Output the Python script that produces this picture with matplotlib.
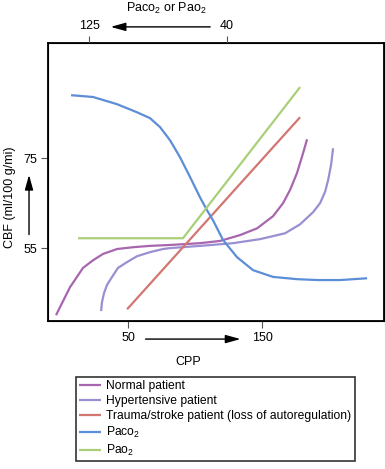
import numpy as np
import matplotlib
matplotlib.use('Agg')
import matplotlib.pyplot as plt

plt.rcParams['font.family'] = ['Liberation Sans', 'DejaVu Sans']
plt.rcParams['mathtext.default'] = 'regular'

# curves (x = CPP units, y = CBF)
normal_x = [-3.7, -0.7, 3.0, 6.7, 11.9, 16.4, 23.9, 31.3, 41.8, 53.7, 66.4, 81.3,
            103.7, 118.7, 133.6, 146.3, 158.2, 165.7, 171, 176.1, 180.6, 183.6]
normal_y = [40.1, 41.9, 44.1, 46.3, 48.6, 50.6, 52.3, 53.7, 54.8, 55.2, 55.5, 55.7,
            56.1, 56.6, 57.9, 59.4, 62.1, 65.0, 68.0, 71.7, 76.1, 79.2]

hyper_x = [29.9, 30.6, 32.1, 34.3, 38.1, 42.5, 49.3, 56.7, 66.4, 76.1, 81.3,
           103.7, 128.4, 148.5, 167.2, 178.4, 188.1, 193.3, 197, 199.3, 201.5, 203.0]
hyper_y = [41.0, 43.0, 45.0, 46.8, 48.6, 50.6, 51.9, 53.2, 54.1, 54.8, 55.0,
           55.5, 56.1, 57.0, 58.3, 60.3, 63.0, 65.0, 67.5, 70.1, 73.5, 77.2]

trauma_x = [49.3, 178.4]
trauma_y = [41.4, 84.1]

paco2_x = [7.5, 23.9, 41.8, 56.7, 66.4, 73.9, 81.3, 88.8, 96.3, 103.7, 109.0, 113.4,
           120.9, 131.3, 143.3, 158.2, 176.1, 191.8, 208.2, 228.4]
paco2_y = [89.0, 88.6, 87.0, 85.2, 83.9, 81.9, 79.0, 75.2, 70.8, 66.3, 63.4, 61.2,
           56.8, 53.0, 50.1, 48.6, 48.1, 47.9, 47.9, 48.3]

pao2_x = [12.7, 91, 178.4]
pao2_y = [57.2, 57.2, 90.8]

labels = ['Normal patient', 'Hypertensive patient',
          'Trauma/stroke patient (loss of autoregulation)',
          'Paco$_2$', 'Pao$_2$']
colors = ['#a866ae', '#9a8fd0', '#d27670', '#5c8ed8', '#a9cf78']

cpp_ticks = [50, 150]
cbf_ticks = [55, 75]
top_ticks = [21, 123.9]
top_labels = ['125', '40']

W, H = 385, 469
fig = plt.figure(figsize=(W / 100, H / 100), dpi=100)
ax = fig.add_axes([48 / W, 1 - 321 / H, 336 / W, 278 / H])

series = [(normal_x, normal_y), (hyper_x, hyper_y), (trauma_x, trauma_y),
          (paco2_x, paco2_y), (pao2_x, pao2_y)]
handles = []
for (xs, ys), lab, c in zip(series, labels, colors):
    h, = ax.plot(xs, ys, color=c, lw=1.6, label=lab,
                 solid_capstyle='butt', solid_joinstyle='round')
    handles.append(h)

ax.set_xlim(-9.7, 241)
ax.set_ylim(38.8, 100.6)
for s in ax.spines.values():
    s.set_linewidth(1.3)

ax.set_xticks(cpp_ticks)
ax.set_yticks(cbf_ticks)
ax.tick_params(length=5, width=0.8, labelsize=9, pad=3, color='#555555')

top = ax.twiny()
top.set_xlim(ax.get_xlim())
top.set_xticks(top_ticks)
top.set_xticklabels(top_labels)
top.tick_params(length=5, width=0.8, labelsize=9, pad=3, color='#555555')

arrow = dict(arrowstyle='-|>,head_length=0.9,head_width=0.25', color='black', lw=1.0)
# bottom arrow 50 -> 150
ax.annotate('', xy=(136, -0.065), xytext=(61, -0.065),
            xycoords=('data', 'axes fraction'), arrowprops=arrow, annotation_clip=False)
# top arrow 40 -> 125
ax.annotate('', xy=(35, 1.058), xytext=(113.4, 1.058),
            xycoords=('data', 'axes fraction'), arrowprops=arrow, annotation_clip=False)
# left arrow up
ax.annotate('', xy=(-0.0565, 71.9), xytext=(-0.0565, 57.4),
            xycoords=('axes fraction', 'data'), arrowprops=arrow, annotation_clip=False)

fig.text(188 / W, 1 - 362 / H, 'CPP', ha='center', va='center', fontsize=9)
fig.text(10 / W, 1 - 197 / H, 'CBF (ml/100 g/mi)', ha='center', va='center',
         rotation=90, fontsize=9)
fig.text(166 / W, 1 - 8 / H, 'Paco$_2$ or Pao$_2$', ha='center', va='center', fontsize=9)

leg = fig.legend(handles=handles, loc='upper left', bbox_to_anchor=(76 / W, 1 - 377 / H),
                 borderaxespad=0, fontsize=8.75, fancybox=False, frameon=True,
                 handlelength=1.8, handletextpad=0.45, labelspacing=0.24, borderpad=0.25)
leg.get_frame().set_edgecolor('black')
leg.get_frame().set_linewidth(1.2)

fig.savefig('out.png', dpi=100)
